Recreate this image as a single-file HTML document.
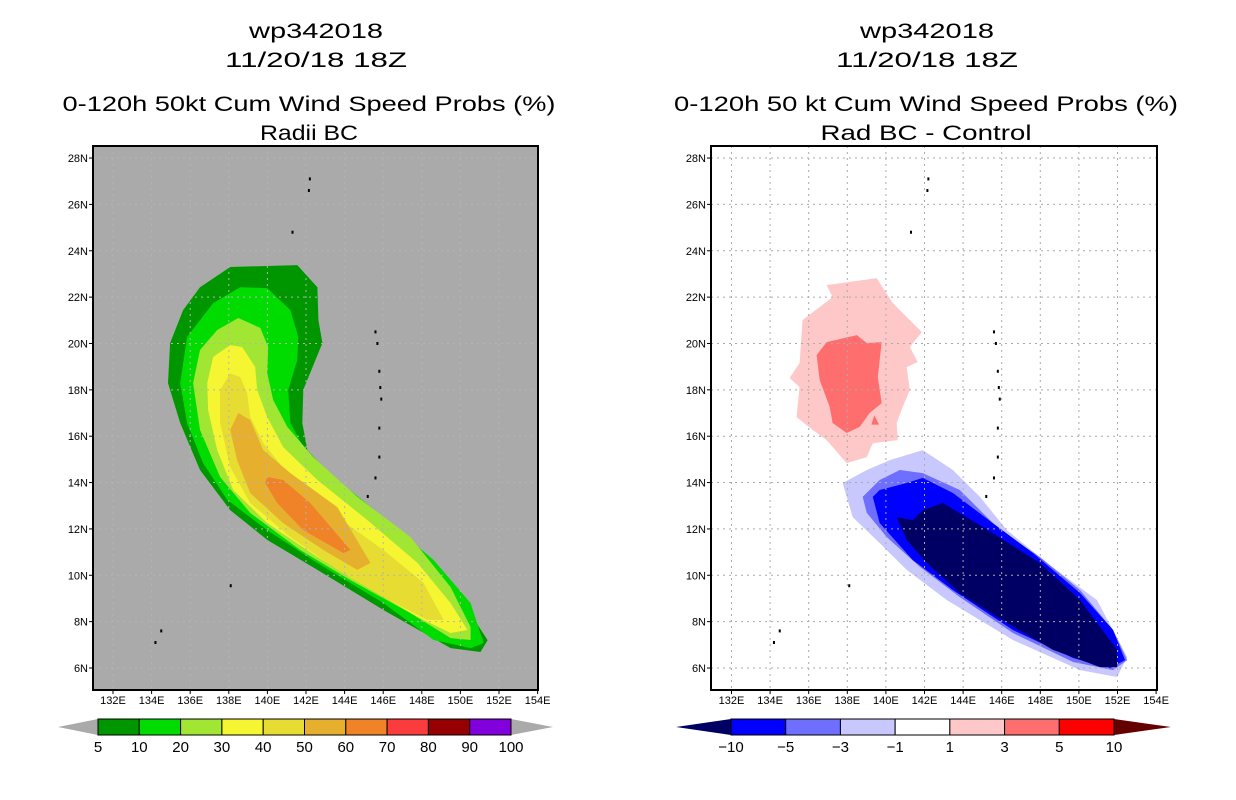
<!DOCTYPE html>
<html><head><meta charset="utf-8"><style>
html,body{margin:0;padding:0;background:#fff}
svg{display:block}
text{font-family:"Liberation Sans",sans-serif;fill:#000}
</style></head><body>
<svg id="s" width="1236" height="800" viewBox="0 0 1236 800" xmlns="http://www.w3.org/2000/svg">
<g>
<text x="316" y="38" font-size="21" text-anchor="middle" textLength="134" lengthAdjust="spacingAndGlyphs">wp342018</text>
<text x="316" y="67" font-size="21" text-anchor="middle" textLength="182" lengthAdjust="spacingAndGlyphs">11/20/18 18Z</text>
<text x="309" y="111" font-size="21" text-anchor="middle" textLength="493" lengthAdjust="spacingAndGlyphs">0-120h 50kt Cum Wind Speed Probs (%)</text>
<text x="309" y="140" font-size="21" text-anchor="middle" textLength="98" lengthAdjust="spacingAndGlyphs">Radii BC</text>
</g>
<g>
<text x="927" y="38" font-size="21" text-anchor="middle" textLength="134" lengthAdjust="spacingAndGlyphs">wp342018</text>
<text x="927" y="67" font-size="21" text-anchor="middle" textLength="182" lengthAdjust="spacingAndGlyphs">11/20/18 18Z</text>
<text x="926" y="111" font-size="21" text-anchor="middle" textLength="504" lengthAdjust="spacingAndGlyphs">0-120h 50 kt Cum Wind Speed Probs (%)</text>
<text x="926" y="140" font-size="21" text-anchor="middle" textLength="211" lengthAdjust="spacingAndGlyphs">Rad BC - Control</text>
</g>
<g id="L"></g>
<g id="R"></g>
<g id="CB"></g>
</svg>
<script>
const NS="http://www.w3.org/2000/svg";
// ---- data ----
const lonTicks=[132,134,136,138,140,142,144,146,148,150,152,154];
const latTicks=[6,8,10,12,14,16,18,20,22,24,26,28];
const leftLevels=[5,10,20,30,40,50,60,70,80,90,100];
const leftColors=["#009600","#00dc00","#a0e632","#f5f532","#e6dc32","#e6af2d","#f08228","#fa3c3c","#960000","#8200dc"];
const rightLevels=["-10","-5","-3","-1","1","3","5","10"];
const rightColors=["#000064","#0000ff","#6e6eff","#c8c8ff","#ffffff","#ffc8c8","#ff6e6e","#ff0000"];
// left contour polygons [lon,lat]
const prob5=[[138.07,23.3],[141.55,23.38],[142.59,22.43],[142.64,21.01],[142.85,20.02],[141.86,18.0],[141.81,16.57],[142.07,15.4],[143.62,13.98],[146.01,12.08],[148.61,10.23],[150.16,8.8],[151.41,7.2],[151.04,6.69],[149.49,6.86],[146.01,8.5],[142.59,10.23],[140.0,11.52],[138.07,12.81],[136.51,14.54],[135.48,16.57],[134.85,18.29],[134.96,20.02],[135.63,21.44],[136.51,22.43]];
const prob10=[[138.59,22.43],[139.99,22.39],[141.19,21.44],[141.6,20.28],[141.55,19.29],[141.08,17.99],[141.19,16.57],[141.86,15.53],[143.62,14.11],[146.01,12.51],[148.61,10.66],[150.53,8.8],[151.2,7.08],[150.53,6.86],[148.61,7.21],[146.01,8.8],[142.59,10.53],[139.99,11.95],[137.92,13.25],[136.67,14.84],[135.84,16.57],[135.48,18.29],[135.84,20.28],[137.19,21.74]];
const prob20=[[138.49,21.1],[139.63,20.67],[140.04,19.85],[139.99,18.72],[140.3,17.56],[141.03,16.4],[142.38,15.1],[144.66,13.38],[147.41,11.65],[149.49,9.49],[150.53,7.77],[150.53,7.21],[149.49,7.29],[147.41,8.37],[144.3,9.79],[141.7,11.09],[139.11,12.69],[137.55,14.24],[136.51,16.27],[136.15,18.29],[136.51,19.72],[137.4,20.58]];
const prob30=[[138.07,19.93],[138.69,19.85],[139.37,18.98],[139.47,17.99],[139.99,16.83],[140.82,15.53],[142.59,14.11],[145.18,12.38],[147.78,10.53],[149.49,8.8],[150.37,7.64],[149.49,7.51],[147.78,8.2],[145.18,9.49],[142.59,10.79],[139.99,12.25],[138.23,13.68],[137.4,15.4],[136.93,17.13],[136.88,18.29],[137.19,19.42]];
const prob40=[[138.07,18.72],[138.59,18.55],[138.95,17.86],[139.11,16.83],[139.78,15.71],[141.19,14.24],[143.62,12.51],[146.01,11.09],[148.09,9.67],[149.13,8.07],[148.29,8.07],[146.01,9.06],[143.62,10.23],[141.19,11.65],[139.11,13.12],[138.07,14.67],[137.55,16.57],[137.55,17.99]];
const prob50=[[138.49,17.0],[139.11,16.7],[139.78,15.4],[141.19,14.41],[143.62,12.94],[145.34,10.53],[144.66,10.23],[142.9,11.09],[140.82,12.25],[139.11,13.55],[138.43,14.97],[138.07,16.27]];
const prob60=[[139.99,14.24],[140.82,14.11],[142.22,13.12],[144.3,11.09],[143.94,10.96],[141.86,11.95],[140.51,13.12],[139.89,13.98]];
const leftPolys=[prob5,prob10,prob20,prob30,prob40,prob50,prob60];
// right difference polygons
const diffPos1=[[136.93,22.52],[139.52,22.82],[140.36,21.74],[141.86,20.49],[141.24,19.85],[141.65,19.2],[141.08,18.98],[141.24,17.99],[140.87,17.26],[140.56,16.57],[140.61,15.83],[139.32,15.7],[139.01,15.1],[137.97,14.84],[136.93,15.83],[136.2,16.27],[135.37,16.83],[135.53,18.12],[135.01,18.51],[135.53,19.16],[135.68,21.01],[137.24,22.0]];
const diffPos3=[[136.41,19.5],[136.93,20.06],[138.49,20.36],[139.01,20.02],[139.78,20.06],[139.58,18.55],[139.78,17.43],[139.16,17.0],[138.64,16.4],[137.97,16.14],[137.24,16.57],[137.09,17.26],[136.57,18.42]];
const diffPos3b=[[139.4,16.9],[139.65,16.5],[139.25,16.5]];
const diffNeg1=[[137.76,13.98],[139.01,14.54],[140.2,14.97],[141.91,15.4],[143.47,14.54],[144.87,13.38],[146.27,11.95],[148.35,10.53],[150.94,8.93],[152.5,6.47],[151.98,5.61],[150.06,5.91],[146.58,7.21],[143.16,8.93],[141.08,10.23],[139.68,11.39],[138.28,12.51]];
const diffNeg3=[[138.8,13.38],[139.68,14.11],[140.72,14.54],[141.91,14.41],[143.83,13.68],[145.91,11.95],[147.98,10.79],[150.06,9.36],[151.77,7.64],[152.5,6.34],[151.77,5.91],[149.7,6.26],[146.58,7.51],[143.83,9.06],[141.76,10.36],[140.04,11.65],[139.01,12.69]];
const diffNeg5=[[139.32,13.38],[139.68,13.68],[141.08,13.98],[141.91,14.2],[143.47,13.55],[145.54,12.25],[147.62,10.96],[150.06,9.23],[151.77,7.64],[152.39,6.34],[151.62,6.0],[149.7,6.43],[146.58,7.64],[143.47,9.36],[141.39,10.66],[139.68,12.25]];
const diffNeg10=[[140.56,12.51],[141.39,12.38],[141.91,12.81],[142.95,13.12],[145.54,11.82],[147.98,10.53],[150.06,8.93],[151.98,6.78],[151.98,6.04],[151.1,6.04],[148.66,6.78],[146.27,7.94],[143.83,9.23],[142.12,10.53],[141.08,11.52]];
const rightPolys=[diffPos1,diffPos3,diffPos3b,diffNeg1,diffNeg3,diffNeg5,diffNeg10];
const rightPolyColors=["#ffc8c8","#ff6e6e","#ff6e6e","#c8c8ff","#6e6eff","#0000ff","#000064"];
// islands (lon,lat)
const islands=[[142.2,27.1],[142.15,26.6],[141.3,24.8],[145.6,20.5],[145.7,20.0],[145.8,18.8],[145.85,18.1],[145.9,17.6],[145.8,16.35],[145.8,15.1],[145.6,14.2],[145.2,13.4],[138.1,9.55],[134.5,7.6],[134.2,7.1]];
// ---- axes ----
function mk(tag,attrs,parent){const e=document.createElementNS(NS,tag);for(const k in attrs)e.setAttribute(k,attrs[k]);parent.appendChild(e);return e;}
const panels=[{g:document.getElementById('L'),x0:93,x1:538,lon0:113,side:'left'},{g:document.getElementById('R'),x0:711,x1:1157,lon0:731.5,side:'right'}];
const yTop=146,yBot=690;
function makeX(p){return lon=>p.lon0+(lon-132)*19.3;}
function yS(lat){return 668-(lat-6)*23.18;}
function pts(poly,xS){return poly.map(q=>xS(q[0]).toFixed(1)+","+yS(q[1]).toFixed(1)).join(" ");}
panels.forEach((p,pi)=>{
  const xS=makeX(p);
  const bg=mk('rect',{x:p.x0,y:yTop,width:p.x1-p.x0,height:yBot-yTop,fill:pi==0?'#aaaaaa':'#ffffff'},p.g);
  
  
  const polys=pi==0?leftPolys:rightPolys;
  polys.forEach((poly,i)=>{
    const e=mk('polygon',{points:pts(poly,xS),fill:pi==0?leftColors[i]:rightPolyColors[i]},p.g);
    
    
  });
  const grid=mk('g',{stroke:pi==0?'#b4b4b4':'#aaaaaa','stroke-width':1,'stroke-dasharray':'2,4'},p.g);
  
  
  lonTicks.slice(0,11).forEach(l=>mk('line',{x1:xS(l),x2:xS(l),y1:yTop,y2:yBot},grid));
  latTicks.forEach(l=>mk('line',{x1:p.x0,x2:p.x1,y1:yS(l),y2:yS(l)},grid));
  islands.forEach(q=>{
    const e=mk('rect',{x:xS(q[0])-1,y:yS(q[1])-1.5,width:2,height:3,fill:'#000'},p.g);
    
    
  });
  const fr=mk('rect',{x:p.x0,y:yTop,width:p.x1-p.x0,height:yBot-yTop,fill:'none',stroke:'#000','stroke-width':2},p.g);
  
  
  lonTicks.forEach(l=>{
    mk('line',{x1:xS(l),x2:xS(l),y1:yBot,y2:yBot+4,stroke:'#000'},p.g);
    const t=mk('text',{x:xS(l),y:yBot+14,'font-size':11,'text-anchor':'middle'},p.g);
    t.textContent=l+"E";
    
    
  });
  latTicks.forEach(l=>{
    mk('line',{x1:p.x0-4,x2:p.x0,y1:yS(l),y2:yS(l),stroke:'#000'},p.g);
    const t=mk('text',{x:p.x0-5,y:yS(l)+4,'font-size':11,'text-anchor':'end'},p.g);
    t.textContent=l+"N";
    
    
  });
});
// ---- colorbars ----
const cb=document.getElementById('CB');
function colorbar(x0,x1,a0,a1,colors,labels,leftTri,rightTri,name){
  const g=mk('g',{},cb);
  
  
  const y0=719,y1=735,ym=727,w=(x1-x0)/colors.length;
  const lt=mk('polygon',{points:`${a0},${ym} ${x0},${y0} ${x0},${y1}`,fill:leftTri},g);
  
  
  const rt=mk('polygon',{points:`${a1},${ym} ${x1},${y0} ${x1},${y1}`,fill:rightTri},g);
  
  
  colors.forEach((c,i)=>{
    const r=mk('rect',{x:x0+i*w,y:y0,width:w,height:y1-y0,fill:c,stroke:'#000','stroke-width':1},g);
    
    
  });
  labels.forEach((l,i)=>{
    const t=mk('text',{x:x0+i*w,y:752,'font-size':15,'text-anchor':'middle'},g);
    t.textContent=String(l).replace('-','\u2212');
    
    
  });
}
colorbar(98,511,58,553,leftColors,leftLevels,'#aaaaaa','#aaaaaa','left-colorbar');
colorbar(731,1114,676,1171,rightColors.slice(1),rightLevels,'#000064','#640000','right-colorbar');
</script>
</body></html>
